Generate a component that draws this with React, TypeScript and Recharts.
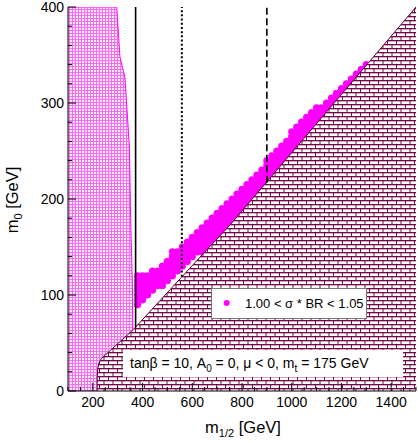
import React from 'react';
import { ComposedChart, XAxis, YAxis, Area, Scatter, Line } from 'recharts';

// axis ticks (minor + major), labels only on majors
const xTicks = [100, 150, 200, 250, 300, 350, 400, 450, 500, 550, 600, 650, 700, 750, 800, 850, 900, 950, 1000, 1050, 1100, 1150, 1200, 1250, 1300, 1350, 1400, 1450, 1500];
const yTicks = [0, 20, 40, 60, 80, 100, 120, 140, 160, 180, 200, 220, 240, 260, 280, 300, 320, 340, 360, 380, 400];

// pink (hatched) excluded region, right edge
const pinkEdge = [
  { m: 100, m0: 400 }, { m: 296, m0: 400 }, { m: 309, m0: 348 }, { m: 329, m0: 327 },
  { m: 347, m0: 254 }, { m: 352, m0: 181 }, { m: 358, m0: 120 }, { m: 360, m0: 98 },
  { m: 360.5, m0: 64 }, { m: 361, m0: 0 },
];

// brick region upper boundary
const brickEdge = [
  { m: 217, m0: 0 }, { m: 217.5, m0: 15 }, { m: 220, m0: 24 }, { m: 226, m0: 30 },
  { m: 235, m0: 34 }, { m: 363, m0: 64 }, { m: 658, m0: 147 }, { m: 752, m0: 173 },
  { m: 1500, m0: 400 },
];

// vertical constraint lines
const solidLine = [{ m: 372, m0: 66 }, { m: 372, m0: 400 }];
const dottedLine = [{ m: 558, m0: 119 }, { m: 558, m0: 400 }];
const dashedLine = [{ m: 900, m0: 217 }, { m: 900, m0: 400 }];

// scan points with 1.00 < sigma*BR < 1.05 : [m1/2, m0 values]
const bandColumns: [number, number[]][] = [
  [380, [90, 95, 100, 105, 110, 115, 120]],
  [400, [95, 100, 105, 110, 115, 120]],
  [420, [100, 105, 110, 115, 120]],
  [440, [105, 110, 115, 120, 125]],
  [460, [110, 115, 120, 125]],
  [480, [110, 115, 120, 125, 130]],
  [500, [115, 120, 125, 130, 135]],
  [520, [120, 125, 130, 135, 140, 145]],
  [540, [125, 130, 135, 140, 145]],
  [560, [130, 135, 140, 145, 150]],
  [580, [135, 140, 145, 150, 155]],
  [600, [140, 145, 150, 155, 160]],
  [620, [145, 150, 155, 160, 165]],
  [640, [145, 150, 155, 160, 165, 170]],
  [660, [145, 150, 155, 160, 165, 170, 175]],
  [680, [150, 155, 160, 165, 170, 175, 180]],
  [700, [155, 160, 165, 170, 175, 180, 185]],
  [720, [160, 165, 170, 175, 180, 185, 190]],
  [740, [165, 170, 175, 180, 185, 190, 195]],
  [760, [175, 180, 185, 190, 195, 200]],
  [780, [180, 185, 190, 195, 200, 205]],
  [800, [185, 190, 195, 200, 205, 210]],
  [820, [190, 195, 200, 205, 210, 215]],
  [840, [195, 200, 205, 210, 215, 220]],
  [860, [205, 210, 215, 220, 225]],
  [880, [210, 215, 220, 225, 230]],
  [900, [215, 220, 225, 230, 235, 240]],
  [920, [220, 225, 230, 235, 240, 245]],
  [940, [230, 235, 240, 245, 250]],
  [960, [235, 240, 245, 250, 255]],
  [980, [240, 245, 250, 255, 260]],
  [1000, [245, 250, 255, 260, 265, 270]],
  [1020, [250, 255, 260, 265, 270, 275]],
  [1040, [260, 265, 270, 275, 280]],
  [1060, [265, 270, 275, 280, 285]],
  [1080, [270, 275, 280, 285, 290]],
  [1100, [275, 280, 285, 290, 295]],
  [1120, [280, 285, 290, 295]],
  [1140, [290, 295, 300]],
  [1160, [295, 300, 305]],
  [1180, [300, 305, 310]],
  [1200, [305, 310, 315]],
  [1220, [315, 320]],
  [1240, [320, 325]],
  [1260, [325, 330]],
  [1280, [330, 335]],
  [1300, [335, 340]],
];

const bandPoints = bandColumns.flatMap(([m, list]) => list.map((m0) => ({ m, m0 })));

const FONT = '"Liberation Sans", Arial, Helvetica, sans-serif';

const BottomTick = (props: any) => {
  const { x, y, payload } = props;
  const v = payload.value;
  const major = v % 200 === 0;
  return (
    <g>
      <line x1={x} x2={x} y1={y} y2={y - (major ? 8 : 4)} stroke="#000" />
      {major && (
        <text x={x} y={y + 16} textAnchor="middle" fontSize={14} fontFamily={FONT} fill="#000">
          {v}
        </text>
      )}
    </g>
  );
};

const TopTick = (props: any) => {
  const { x, y, payload } = props;
  const major = payload.value % 200 === 0;
  return <line x1={x} x2={x} y1={y} y2={y + (major ? 8 : 4)} stroke="#000" />;
};

const LeftTick = (props: any) => {
  const { x, y, payload } = props;
  const v = payload.value;
  const major = v % 100 === 0;
  return (
    <g>
      <line x1={x} x2={x + (major ? 8 : 4)} y1={y} y2={y} stroke="#000" />
      {major && (
        <text x={x - 4} y={y + 5} textAnchor="end" fontSize={14} fontFamily={FONT} fill="#000">
          {v}
        </text>
      )}
    </g>
  );
};

const RightTick = (props: any) => {
  const { x, y, payload } = props;
  const major = payload.value % 100 === 0;
  return <line x1={x} x2={x - (major ? 8 : 4)} y1={y} y2={y} stroke="#000" />;
};

const Dot = (props: any) => <circle cx={props.cx} cy={props.cy} r={3.6} fill="#ff00ff" />;

export default function App() {
  return (
    <div style={{ position: 'absolute', left: 0, top: 0, width: 418, height: 443, background: '#fff' }}>
      <ComposedChart
        width={418}
        height={443}
        margin={{ top: 7, right: 2, bottom: 0, left: 8 }}
        style={{ fontFamily: FONT }}
      >
        <defs>
          <pattern id="pinkHatch" patternUnits="userSpaceOnUse" width={3} height={3}>
            <rect width={3} height={3} fill="#f070f0" />
            <rect x={1} y={1} width={2} height={2} fill="#ffe6ff" />
          </pattern>
          <pattern id="bricks" patternUnits="userSpaceOnUse" width={9} height={8}>
            <rect width={9} height={8} fill="#fff" />
            <rect y={0} width={9} height={1} fill="#6e0d45" />
            <rect y={1} width={9} height={1} fill="#d6a8c6" />
            <rect y={4} width={9} height={1} fill="#6e0d45" />
            <rect y={5} width={9} height={1} fill="#d6a8c6" />
            <rect x={0} y={0} width={1} height={4} fill="#6e0d45" />
            <rect x={4.5} y={4} width={1} height={4} fill="#6e0d45" />
          </pattern>
        </defs>

        <XAxis
          dataKey="m"
          type="number"
          domain={[100, 1500]}
          ticks={xTicks}
          interval={0}
          allowDataOverflow
          height={52}
          tickSize={0}
          tickMargin={0}
          tickLine={false}
          axisLine={{ stroke: '#000' }}
          tick={<BottomTick />}
          zIndex={900}
        />
        <XAxis
          xAxisId="top"
          orientation="top"
          type="number"
          domain={[100, 1500]}
          ticks={xTicks}
          interval={0}
          height={0}
          tickSize={0}
          tickMargin={0}
          tickLine={false}
          axisLine={{ stroke: '#000' }}
          tick={<TopTick />}
          zIndex={900}
        />
        <YAxis
          dataKey="m0"
          type="number"
          domain={[0, 400]}
          ticks={yTicks}
          interval={0}
          allowDataOverflow
          width={60}
          tickSize={0}
          tickMargin={0}
          tickLine={false}
          axisLine={{ stroke: '#000' }}
          tick={<LeftTick />}
          zIndex={900}
        />
        <YAxis
          yAxisId="right"
          orientation="right"
          type="number"
          domain={[0, 400]}
          ticks={yTicks}
          interval={0}
          width={0}
          tickSize={0}
          tickMargin={0}
          tickLine={false}
          axisLine={{ stroke: '#000' }}
          tick={<RightTick />}
          zIndex={900}
        />

        <Area
          data={pinkEdge}
          dataKey="m0"
          type="linear"
          stroke="#ff00ff"
          strokeWidth={1}
          fill="url(#pinkHatch)"
          fillOpacity={1}
          isAnimationActive={false}
          dot={false}
          activeDot={false}
          zIndex={100}
        />
        <Scatter data={bandPoints} dataKey="m0" shape={<Dot />} isAnimationActive={false} zIndex={600} />
        <Area
          data={brickEdge}
          dataKey="m0"
          type="linear"
          stroke="#5a0035"
          strokeWidth={1}
          fill="url(#bricks)"
          fillOpacity={1}
          isAnimationActive={false}
          dot={false}
          activeDot={false}
          zIndex={650}
        />
        <Line data={solidLine} dataKey="m0" stroke="#000" strokeWidth={1.6} dot={false} isAnimationActive={false} zIndex={700} />
        <Line data={dottedLine} dataKey="m0" stroke="#000" strokeWidth={2} strokeDasharray="2 2.2" dot={false} isAnimationActive={false} zIndex={700} />
        <Line data={dashedLine} dataKey="m0" stroke="#000" strokeWidth={1.6} strokeDasharray="7 3.5" dot={false} isAnimationActive={false} zIndex={700} />
      </ComposedChart>

      {/* annotations drawn over the plot */}
      <svg
        width={418}
        height={443}
        style={{ position: 'absolute', left: 0, top: 0, pointerEvents: 'none' }}
        fontFamily={FONT}
      >
        <rect x={211.5} y={288.5} width={155} height={30} fill="#fff" stroke="#777" />
        <circle cx={226.7} cy={303} r={3} fill="#ff00ff" />
        <text x={245} y={308} fontSize={13} fill="#000">1.00 &lt; σ * BR &lt; 1.05</text>

        <rect x={123} y={350} width={280} height={27} fill="#fff" />
        <text x={130} y={368} fontSize={14} fill="#000">
          tanβ = 10, A<tspan dy={4} fontSize={10}>0</tspan>
          <tspan dy={-4}> = 0, μ &lt; 0, m</tspan>
          <tspan dy={4} fontSize={10}>t</tspan>
          <tspan dy={-4}> = 175 GeV</tspan>
        </text>

        <text x={243} y={433} textAnchor="middle" fontSize={16.5} fill="#000">
          m<tspan dy={4} fontSize={11}>1/2</tspan>
          <tspan dy={-4}> [GeV]</tspan>
        </text>
        <text transform="translate(18,200) rotate(-90)" textAnchor="middle" fontSize={16.5} fill="#000">
          m<tspan dy={4} fontSize={11}>0</tspan>
          <tspan dy={-4}> [GeV]</tspan>
        </text>
      </svg>
    </div>
  );
}
